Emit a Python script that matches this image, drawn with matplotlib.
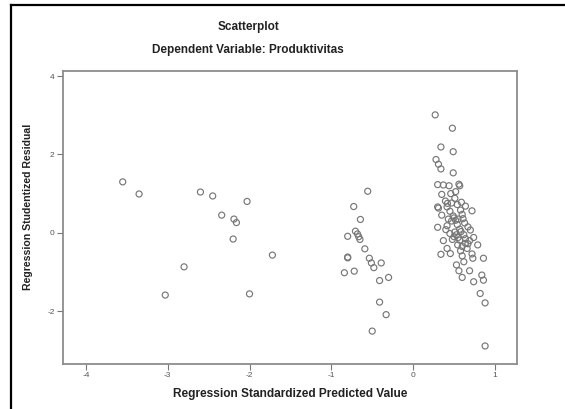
import matplotlib.pyplot as plt
from matplotlib.lines import Line2D

plt.rcParams['font.family'] = ['Liberation Sans', 'DejaVu Sans']
plt.rcParams['axes.unicode_minus'] = False

title = "Scatterplot"
subtitle = "Dependent Variable: Produktivitas"
x_label = "Regression Standardized Predicted Value"
y_label = "Regression Studentized Residual"
x_ticks = [-4, -3, -2, -1, 0, 1]
y_ticks = [-2, 0, 2, 4]

# left group
x_left = [-3.55, -3.35, -2.60, -2.45, -2.03, -2.34, -2.19, -2.16, -2.20, -1.72, -2.80, -3.03, -2.00]
y_left = [1.30, 0.99, 1.04, 0.94, 0.80, 0.45, 0.35, 0.26, -0.16, -0.57, -0.87, -1.59, -1.56]

# middle group
x_mid = [-0.555, -0.726, -0.644, -0.705, -0.68, -0.665, -0.65, -0.80, -0.59, -0.80, -0.80,
         -0.535, -0.51, -0.48, -0.39, -0.84, -0.72, -0.41, -0.30, -0.41, -0.33, -0.50]
y_mid = [1.06, 0.67, 0.34, 0.04, -0.03, -0.10, -0.17, -0.09, -0.41, -0.64, -0.62,
         -0.65, -0.77, -0.89, -0.77, -1.02, -0.98, -1.22, -1.14, -1.77, -2.09, -2.51]

# right group
x_right = [0.27, 0.48, 0.34, 0.49, 0.28, 0.31, 0.34, 0.49,
           0.30, 0.44, 0.56, 0.57, 0.35, 0.395, 0.51, 0.30, 0.31, 0.415, 0.54, 0.45,
           0.58, 0.72, 0.49, 0.60, 0.30, 0.415, 0.54, 0.57, 0.67, 0.70,
           0.45, 0.585, 0.74, 0.37, 0.48, 0.545, 0.64, 0.79, 0.415, 0.58,
           0.66, 0.34, 0.455, 0.60, 0.72, 0.62, 0.73, 0.86, 0.53, 0.56,
           0.69, 0.60, 0.74, 0.84, 0.86, 0.82, 0.88, 0.88,
           0.43, 0.47, 0.50, 0.52, 0.55, 0.61, 0.63, 0.51, 0.53, 0.55,
           0.57, 0.50, 0.62, 0.64, 0.60, 0.67, 0.69, 0.42, 0.47, 0.59,
           0.64, 0.46, 0.52, 0.37, 0.40, 0.35]
y_right = [3.01, 2.67, 2.19, 2.07, 1.87, 1.75, 1.63, 1.53,
           1.23, 1.20, 1.24, 1.20, 0.98, 0.81, 0.88, 0.66, 0.63, 0.66, 0.72, 0.55,
           0.58, 0.56, 0.43, 0.47, 0.14, 0.18, 0.21, 0.09, 0.15, 0.07,
           -0.02, 0.03, -0.12, -0.20, -0.17, -0.31, -0.27, -0.31, -0.40, -0.46,
           -0.40, -0.55, -0.53, -0.59, -0.54, -0.74, -0.65, -0.65, -0.82, -0.97,
           -0.97, -1.14, -1.25, -1.08, -1.21, -1.55, -1.79, -2.89,
           0.35, 0.30, 0.38, 0.32, 0.35, 0.36, 0.25, 0.02, -0.05, -0.12,
           -0.19, -0.10, -0.05, -0.15, -0.35, -0.28, -0.20, 0.75, 0.76, 0.78,
           0.68, 1.00, 1.05, 1.22, 0.08, 0.45]

fig = plt.figure(figsize=(5.65, 4.09), dpi=100)
ax = fig.add_axes([63 / 565, 45 / 409, 454 / 565, 293 / 409])

for xs, ys in [(x_left, y_left), (x_mid, y_mid), (x_right, y_right)]:
    ax.scatter(xs, ys, s=19, facecolors='none', edgecolors='#777777', linewidths=0.85)

ax.set_xlim(-4.28, 1.27)
ax.set_ylim(-3.35, 4.13)
ax.set_xticks(x_ticks)
ax.set_yticks(y_ticks)
ax.tick_params(direction='out', length=4, width=0.8, color='#777777',
               labelsize=6, labelcolor='#555555', pad=2)
for sp in ax.spines.values():
    sp.set_color('#8c8c8c')
    sp.set_linewidth(1.3)

ax.set_xlabel(x_label, fontsize=8.6, fontweight='bold', color='#222222', labelpad=6)
ax.set_ylabel(y_label, fontsize=7.6, fontweight='bold', color='#222222')
ax.yaxis.set_label_coords(-0.066, 0.536)

fig.text(248 / 565, 1 - 27 / 409, title, ha='center', va='center',
         fontsize=8.5, fontweight='bold', color='#222222')
fig.text(248 / 565, 1 - 50 / 409, subtitle, ha='center', va='center',
         fontsize=8.5, fontweight='bold', color='#222222')

# outer black frame (left and top edges visible)
fig.add_artist(Line2D([11 / 565, 11 / 565], [0, 1 - 5 / 409], transform=fig.transFigure,
                      color='black', lw=1.6))
fig.add_artist(Line2D([11 / 565, 1], [1 - 5 / 409, 1 - 5 / 409], transform=fig.transFigure,
                      color='black', lw=1.6))

fig.savefig("out.png", dpi=100)
